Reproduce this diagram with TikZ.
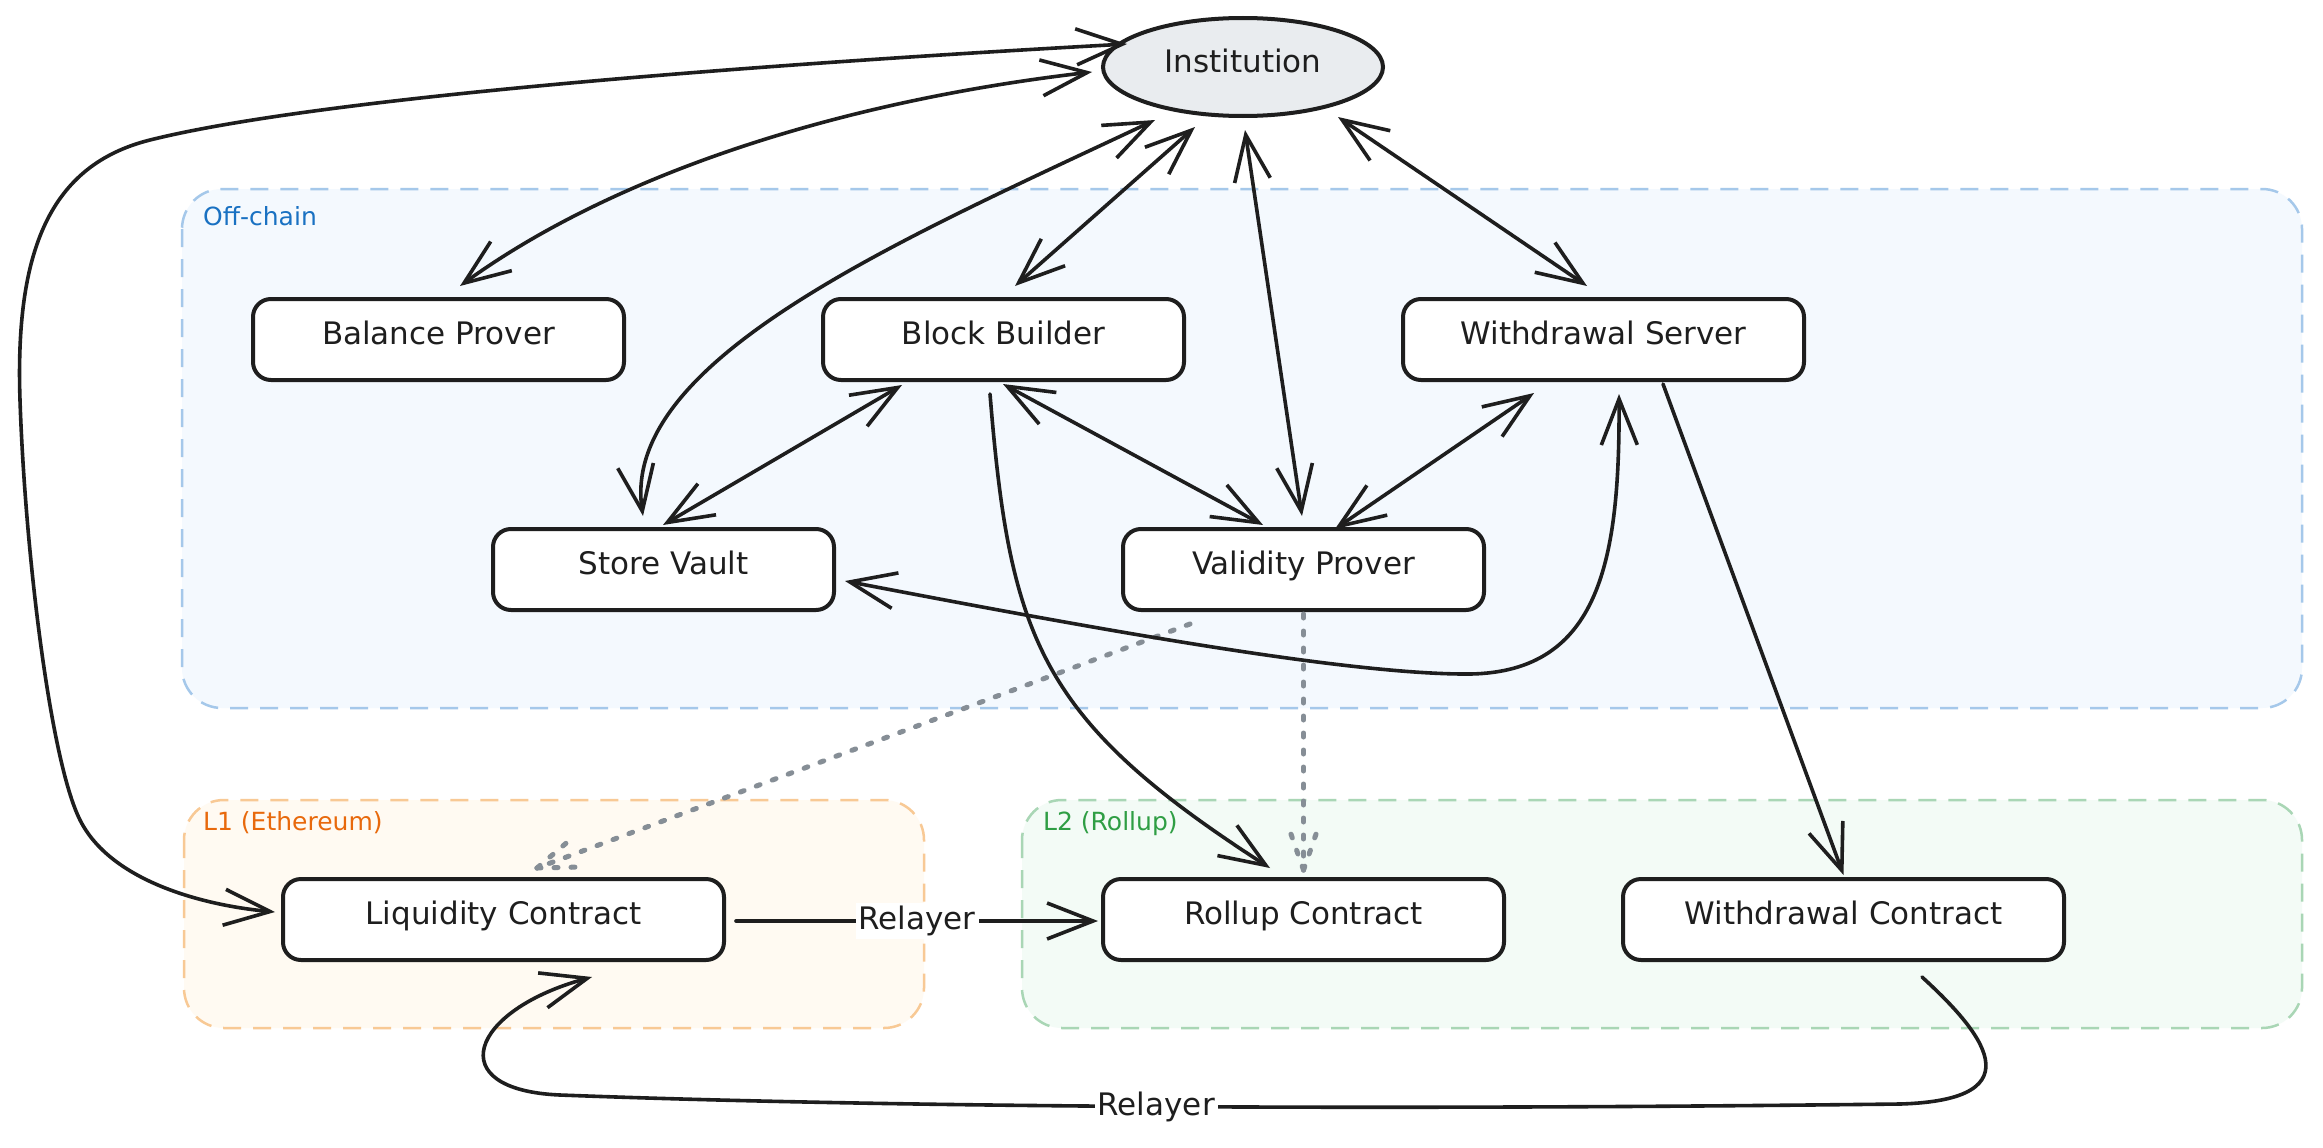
\documentclass[tikz,border=0pt]{standalone}
\usepackage{fontspec}
\setmainfont{DejaVu Sans}
\usetikzlibrary{arrows.meta,shapes.geometric}
\definecolor{ink}{HTML}{1E1E1E}
\definecolor{dotgray}{HTML}{868E96}
\definecolor{offfill}{HTML}{F4F9FE}
\definecolor{offdraw}{HTML}{A5C8EA}
\definecolor{offtext}{HTML}{1971C2}
\definecolor{lonefill}{HTML}{FFFAF2}
\definecolor{lonedraw}{HTML}{F8C995}
\definecolor{lonetext}{HTML}{E8690C}
\definecolor{ltwofill}{HTML}{F3FBF6}
\definecolor{ltwodraw}{HTML}{A9D6B5}
\definecolor{ltwotext}{HTML}{2F9E44}
\definecolor{instfill}{HTML}{E9ECEF}
\tikzset{
  region/.style={draw=#1, line width=2.5pt, dash pattern=on 18pt off 12pt, rounded corners=40pt},
  regionlabel/.style={anchor=base west, text=#1, font=\fontsize{25}{30}\selectfont, inner sep=0pt},
  stepbox/.style={draw=ink, fill=white, line width=4pt, rounded corners=18pt,
    minimum width=#1, minimum height=81pt, inner sep=0pt,
    text height=23pt, text depth=13pt, font=\fontsize{31}{36}\selectfont, text=ink},
  conn/.style={draw=ink, line width=3.6pt, line cap=round, line join=round},
  dotline/.style={draw=dotgray, line width=5pt, line cap=round, dash pattern=on 4pt off 13pt},
  lbl/.style={fill=white, inner sep=3pt, font=\fontsize{31}{36}\selectfont, text=ink},
  >={Straight Barb[length=46pt,width=36pt]}
}
\begin{document}
\begin{tikzpicture}[x=1pt,y=-1pt]
\useasboundingbox (0,0) rectangle (2323,1148);
\fill[white] (0,0) rectangle (2323,1148);

% regions
\filldraw[region=offdraw, fill=offfill] (182,189) rectangle (2302,708);
\filldraw[region=lonedraw, fill=lonefill] (184,800) rectangle (924,1028);
\filldraw[region=ltwodraw, fill=ltwofill] (1022,800) rectangle (2302,1028);
\node[regionlabel=offtext] (offlbl) at (203,225) {Off-chain};
\node[regionlabel=lonetext] (l1lbl) at (203,830) {L1 (Ethereum)};
\node[regionlabel=ltwotext] (l2lbl) at (1043,830) {L2 (Rollup)};

% nodes
\node[ellipse, draw=ink, fill=instfill, line width=4pt, minimum width=280pt, minimum height=98pt,
      inner sep=0pt, text height=23pt, text depth=11pt, font=\fontsize{31}{36}\selectfont, text=ink]
      (inst) at (1243,67) {Institution};
\node[stepbox=371pt] (bp) at (438.5,339.5) {Balance Prover};
\node[stepbox=361pt] (bb) at (1003.5,339.5) {Block Builder};
\node[stepbox=401pt] (ws) at (1603.5,339.5) {Withdrawal Server};
\node[stepbox=341pt] (sv) at (663.5,569.5) {Store Vault};
\node[stepbox=361pt] (vp) at (1303.5,569.5) {Validity Prover};
\node[stepbox=441pt] (lc) at (503.5,919.5) {Liquidity Contract};
\node[stepbox=401pt] (rc) at (1303.5,919.5) {Rollup Contract};
\node[stepbox=441pt] (wc) at (1843.5,919.5) {Withdrawal Contract};

% dotted connectors (with dotted barbs)
\coordinate (dtipa) at ([shift={(33.5,-9)}]lc.north);
\coordinate (dtipb) at ([shift={(0,-7)}]rc.north);
\draw[dotline] ([shift={(-113.5,12)}]vp.south) -- (dtipa);
\draw[dotline] (dtipa) -- ++(45,-1);
\draw[dotline] (dtipa) -- ++(34,-29);
\draw[dotline] ([shift={(0,2)}]vp.south) -- (dtipb);
\draw[dotline] (dtipb) -- ++(-15,-43);
\draw[dotline] (dtipb) -- ++(15,-43);

% solid connectors
\draw[conn,<->] ([shift={(-116,-23)}]inst.center)
  .. controls (800,62) and (330,95) .. (150,140)
  .. controls (50,165) and (15,250) .. (20,400)
  .. controls (25,550) and (50,760) .. (80,820)
  .. controls (110,880) and (200,905) .. ([shift={(-6,-7.5)}]lc.west);
\draw[conn,<->] ([shift={(-151,5)}]inst.center) .. controls (850,100) and (620,170) .. ([shift={(21.5,-11)}]bp.north);
\draw[conn,<->] ([shift={(-88,53)}]inst.center) .. controls (900,240) and (620,360) .. ([shift={(-20.5,-11)}]sv.north);
\draw[conn,<->] ([shift={(-48,60)}]inst.center) -- ([shift={(11.5,-11)}]bb.north);
\draw[conn,<->] ([shift={(2,63)}]inst.center) -- ([shift={(-1.5,-11)}]vp.north);
\draw[conn,<->] ([shift={(95,50)}]inst.center) -- ([shift={(-16.5,-11)}]ws.north);
\draw[conn,<->] ([shift={(-101.5,3)}]bb.south) -- ([shift={(-0.5,-2)}]sv.north);
\draw[conn,<->] ([shift={(-0.5,2)}]bb.south) -- ([shift={(-40.5,-2)}]vp.north);
\draw[conn,<->] ([shift={(-69.5,11)}]ws.south) -- ([shift={(31.5,2)}]vp.north);
\draw[conn,->] ([shift={(-13.5,12)}]bb.south) .. controls (1010,640) and (1040,720) .. ([shift={(-33.5,-9)}]rc.north);
\draw[conn,<->] ([shift={(9,11.5)}]sv.east) .. controls (1100,630) and (1350,675) .. (1470,674)
  .. controls (1600,672) and (1620,560) .. ([shift={(15.5,12)}]ws.south);
\draw[conn,->] ([shift={(59.5,2)}]ws.south) -- ([shift={(0,-2)}]wc.north);
\draw[conn,->] ([shift={(10,1.5)}]lc.east) -- node[lbl] (rel1) {Relayer} ([shift={(-3,1.5)}]rc.west);
\draw[conn,->] ([shift={(78.5,15)}]wc.south) .. controls (1980,1030) and (2040,1100) .. (1900,1104)
  .. controls (1400,1110) and (900,1108) .. node[pos=0.51,lbl] (rel2) {Relayer} (560,1095)
  .. controls (440,1090) and (470,1010) .. ([shift={(88.5,15)}]lc.south);
\end{tikzpicture}
\end{document}
